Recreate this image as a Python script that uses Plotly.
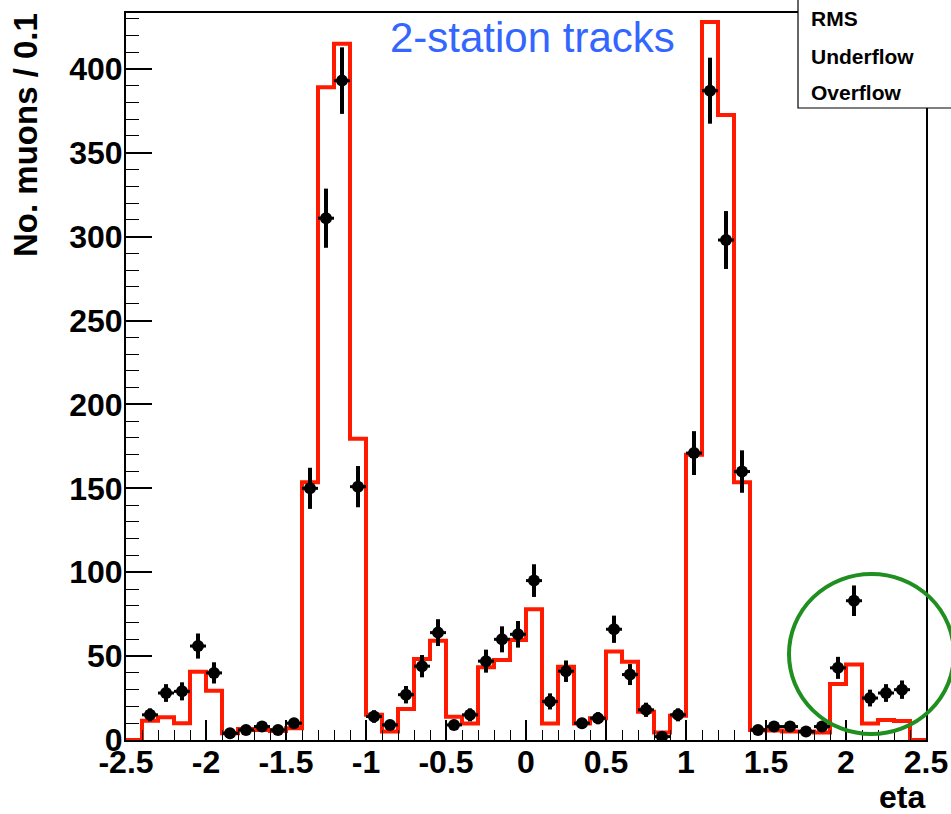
import numpy as np
import plotly.graph_objects as go

# ---- data ----
bin_edges = [round(-2.5 + 0.1 * i, 2) for i in range(51)]
mc_counts = [0, 11.5, 13.5, 10, 40.7, 29.4, 4, 6.5, 6, 5.4,
             7, 153.6, 389, 415, 179.5, 15, 5, 18.5, 48.3, 59.2,
             13.9, 9.9, 43.3, 47.7, 59.6, 78, 9.9, 43.7, 9.9, 12.9,
             52.7, 46.7, 16.9, 4.4, 14.5, 170, 428, 372.5, 153.6, 6,
             5.6, 5, 5, 4.4, 33.4, 45, 9.9, 11.9, 11.3, 0]
data_eta = [round(-2.35 + 0.1 * i, 2) for i in range(48)]
data_counts = [15, 28, 29, 56, 40, 4, 6, 8, 6, 10,
               150, 311, 393, 151, 14, 9, 27, 44, 64, 9,
               15, 47, 60, 63, 95, 23, 41, 10, 13, 66,
               39, 18, 2, 15, 171, 387, 298, 160, 6, 8,
               8, 5, 8, 43, 83, 25, 28, 30]
x_tickvals = [-2.5, -2, -1.5, -1, -0.5, 0, 0.5, 1, 1.5, 2, 2.5]
x_ticktext = ["-2.5", "-2", "-1.5", "-1", "-0.5", "0", "0.5", "1", "1.5", "2", "2.5"]
y_tickvals = [0, 50, 100, 150, 200, 250, 300, 350, 400]
y_ticktext = [str(v) for v in y_tickvals]
stats_labels = ["RMS", "Underflow", "Overflow"]

W, H = 951, 814
ML, MR, MT, MB = 126, 25, 13, 74
PW, PH = W - ML - MR, H - MT - MB


def px(x):
    return (x - ML) / PW


def py(y):
    return (H - MB - y) / PH


FONT = "Liberation Sans, Arial, Helvetica, sans-serif"

fig = go.Figure()

# MC histogram as step line
step_x = bin_edges
step_y = mc_counts + [mc_counts[-1]]
fig.add_trace(go.Scatter(
    x=step_x, y=step_y, mode="lines", line_shape="hv",
    line=dict(color="#ff1a00", width=4), hoverinfo="skip", showlegend=False))

# data points with errors
fig.add_trace(go.Scatter(
    x=data_eta, y=data_counts, mode="markers",
    marker=dict(color="black", size=12, symbol="circle"),
    error_y=dict(type="data", array=list(np.sqrt(data_counts)), color="black",
                 thickness=4, width=0),
    error_x=dict(type="constant", value=0.05, color="black", thickness=3, width=0),
    showlegend=False))

shapes = [
    # green ellipse
    dict(type="circle", xref="paper", yref="paper",
         x0=px(789), x1=px(954), y0=py(734), y1=py(574),
         line=dict(color="#1f8f1f", width=4), layer="above"),
    # stats box
    dict(type="rect", xref="paper", yref="paper",
         x0=px(798), x1=px(965), y0=py(108), y1=py(-10),
         fillcolor="white", line=dict(color="black", width=1.2), layer="above"),
]

annotations = [
    dict(text="2-station tracks", xref="paper", yref="paper",
         x=px(532), y=py(37), xanchor="center", yanchor="middle", showarrow=False,
         font=dict(family=FONT, size=42, color="#3366ff")),
    dict(text="No. muons / 0.1", xref="paper", yref="paper", textangle=-90,
         x=px(25), y=py(11), xanchor="center", yanchor="top", showarrow=False,
         font=dict(family=FONT, size=33, color="black", weight="bold")),
    dict(text="eta", xref="paper", yref="paper",
         x=px(927), y=py(797), xanchor="right", yanchor="middle", showarrow=False,
         font=dict(family=FONT, size=32, color="black", weight="bold")),
]
for lbl, yy in zip(stats_labels, [19, 56, 92]):
    annotations.append(dict(text=lbl, xref="paper", yref="paper",
                            x=px(809), y=py(yy), xanchor="left", yanchor="middle",
                            showarrow=False,
                            font=dict(family=FONT, size=21, color="black", weight="bold")))

fig.update_layout(
    width=W, height=H, margin=dict(l=ML, r=MR, t=MT, b=MB, pad=0, autoexpand=False),
    paper_bgcolor="white", plot_bgcolor="white",
    shapes=shapes, annotations=annotations, showlegend=False,
    xaxis=dict(range=[-2.5, 2.5], tickvals=x_tickvals, ticktext=x_ticktext,
               ticks="inside", ticklen=20, tickwidth=1.5, tickcolor="black",
               minor=dict(dtick=0.1, ticks="inside", ticklen=10, tickwidth=1.2,
                          tickcolor="black", showgrid=False),
               showline=True, linecolor="black", linewidth=2, mirror=True,
               showgrid=False, zeroline=False, automargin=False,
               tickfont=dict(family=FONT, size=32, color="black", weight="bold"),
               ticklabelstandoff=-7),
    yaxis=dict(range=[0, 433.3], tickvals=y_tickvals, ticktext=y_ticktext,
               ticks="inside", ticklen=26, tickwidth=1.5, tickcolor="black",
               minor=dict(dtick=10, ticks="inside", ticklen=13, tickwidth=1.2,
                          tickcolor="black", showgrid=False),
               showline=True, linecolor="black", linewidth=2, mirror=True,
               showgrid=False, zeroline=False, automargin=False,
               tickfont=dict(family=FONT, size=32, color="black", weight="bold"),
               ticklabelstandoff=-5),
)

fig.write_html("out.html")
